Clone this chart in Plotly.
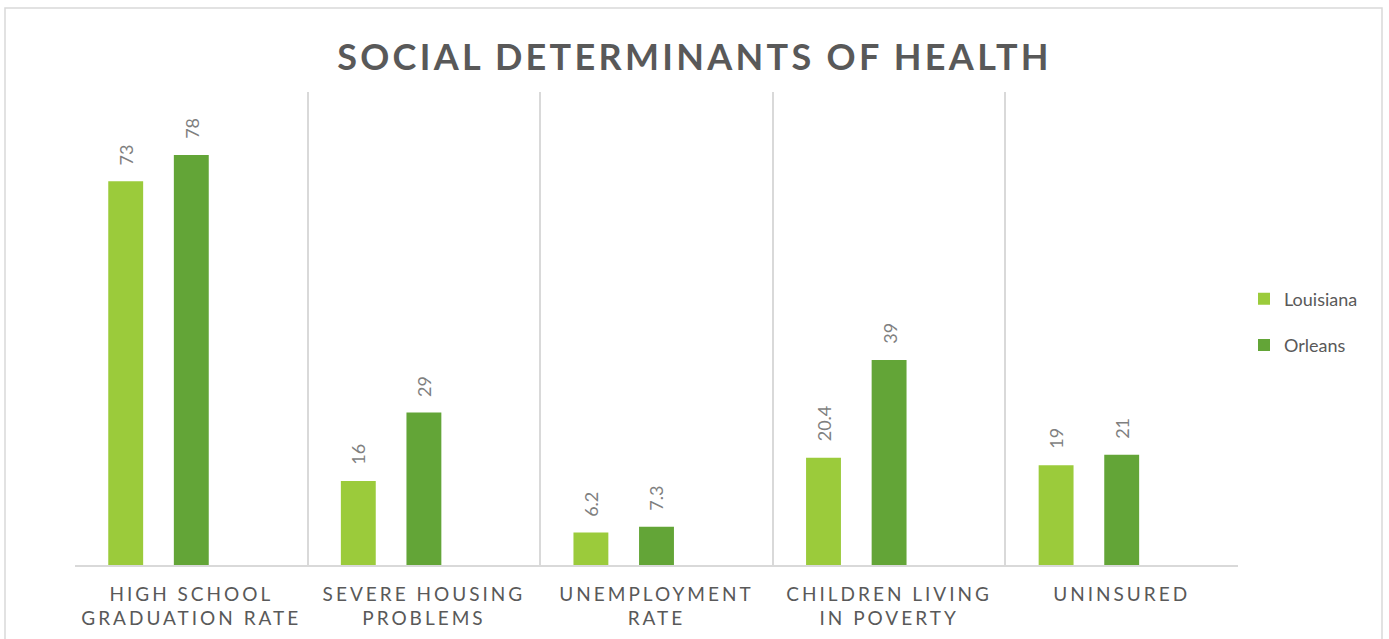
import plotly.graph_objects as go

# Chart data
categories = ["High School Graduation Rate", "Severe Housing Problems",
              "Unemployment Rate", "Children Living in Poverty", "Uninsured"]
tick_labels = ["HIGH SCHOOL<br>GRADUATION RATE", "SEVERE HOUSING<br>PROBLEMS",
               "UNEMPLOYMENT<br>RATE", "CHILDREN LIVING<br>IN POVERTY", "UNINSURED"]
louisiana = [73, 16, 6.2, 20.4, 19]
orleans = [78, 29, 7.3, 39, 21]
louisiana_labels = ["73", "16", "6.2", "20.4", "19"]
orleans_labels = ["78", "29", "7.3", "39", "21"]

LIGHT_GREEN = "#9BCB3B"
DARK_GREEN = "#63A537"
GRID = "#D9D9D9"
TEXT = "#595959"
LABEL = "#7F7F7F"
FONT = "Lato, 'Open Sans', sans-serif"

BAR_W = 0.15
LA_CENTER = -0.282   # Louisiana bar sits left of the category centre
OR_CENTER = 0.0      # Orleans bar sits on the category centre

fig = go.Figure()
fig.add_trace(go.Bar(
    name="Louisiana", x=categories, y=louisiana,
    width=BAR_W, offset=LA_CENTER - BAR_W / 2,
    marker=dict(color=LIGHT_GREEN, line=dict(width=0)),
    legendgroup="la",
))
fig.add_trace(go.Bar(
    name="Orleans", x=categories, y=orleans,
    width=BAR_W, offset=OR_CENTER - BAR_W / 2,
    marker=dict(color=DARK_GREEN, line=dict(width=0)),
    legendgroup="or",
))

# Rotated value labels above each bar
annotations = []
for i in range(len(categories)):
    for center, vals, labs in ((LA_CENTER, louisiana, louisiana_labels),
                               (OR_CENTER, orleans, orleans_labels)):
        annotations.append(dict(
            x=i + center, y=vals[i], xref="x", yref="y",
            text=labs[i], textangle=-90, showarrow=False,
            xanchor="center", yanchor="bottom", yshift=14,
            font=dict(family=FONT, size=18, color=LABEL),
        ))

# Outer chart frame
shapes = [dict(
    type="rect", xref="paper", yref="paper",
    x0=(5 - 75) / 1163, x1=(1382 - 75) / 1163,
    y0=(565 - 660) / 473, y1=(565 - 8) / 473,
    line=dict(color=GRID, width=1.5), fillcolor="rgba(0,0,0,0)", layer="below",
)]

fig.update_layout(
    width=1389, height=639,
    margin=dict(l=75, r=151, t=92, b=74),
    paper_bgcolor="white", plot_bgcolor="white",
    title=dict(
        text="<b>SOCIAL DETERMINANTS OF HEALTH</b>",
        x=0.5, xref="container", xanchor="center",
        y=1 - 57 / 639, yref="container", yanchor="middle",
        font=dict(family=FONT, size=36, color=TEXT),
    ),
    barmode="overlay",
    xaxis=dict(
        type="category", tickson="boundaries", automargin=False,
        tickmode="array", tickvals=categories, ticktext=tick_labels,
        showgrid=True, gridcolor=GRID, gridwidth=1.5,
        showline=True, linecolor=GRID, linewidth=1.5,
        ticks="", ticklabelstandoff=11,
        tickfont=dict(family=FONT, size=19, color=TEXT),
        range=[-0.5, len(categories) - 0.5], fixedrange=True,
    ),
    yaxis=dict(
        range=[0, 90], showgrid=False, zeroline=False, automargin=False,
        showticklabels=False, ticks="", showline=False,
    ),
    legend=dict(
        x=(1244 - 75) / 1163, xanchor="left",
        y=(565 - 322) / 473, yanchor="middle",
        font=dict(family=FONT, size=18, color=TEXT),
        tracegroupgap=20, bgcolor="rgba(0,0,0,0)",
    ),
    annotations=annotations,
    shapes=shapes,
    showlegend=True,
)

spacing_js = """
var gd = document.getElementById('{plot_id}');
gd.querySelectorAll('.gtitle').forEach(function(e){ e.style.letterSpacing = '3.3px'; });
gd.querySelectorAll('.xtick text').forEach(function(e){ e.style.letterSpacing = '3px'; });
"""

fig.write_html("out.html", post_script=[spacing_js])
